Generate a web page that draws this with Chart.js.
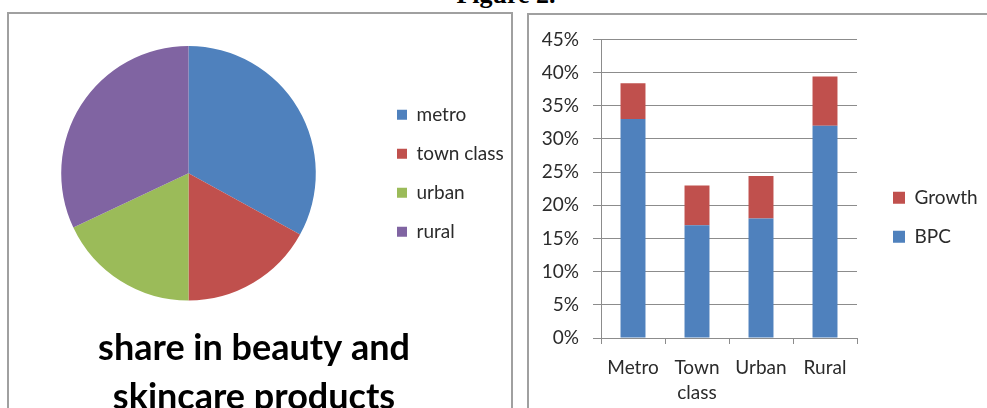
<!DOCTYPE html>
<html>
<head>
<meta charset="utf-8">
<script src="https://cdn.jsdelivr.net/npm/chart.js@4.4.1/dist/chart.umd.min.js"></script>
<style>
  html, body { margin: 0; padding: 0; background: #fff; width: 987px; height: 408px; overflow: hidden; }
  .fig-title { position: absolute; left: 0; width: 1012px; top: -18px; text-align: center;
               font: bold 26px/26px "Liberation Serif", serif; color: #000; }
  .panel { position: absolute; border: 2px solid #a0a0a0; background: #fff; }
  #pie-panel { left: 7px; top: 12px; width: 502px; height: 420px; }
  #bar-panel { left: 527px; top: 13px; width: 480px; height: 420px; }
  canvas { position: absolute; }
  #pie { left: 0; top: 13px; }
  #bar { left: 528px; top: 14px; }
</style>
</head>
<body>
<div class="fig-title">Figure 2.</div>
<div class="panel" id="pie-panel"></div>
<div class="panel" id="bar-panel"></div>
<canvas id="pie" width="511" height="409"></canvas>
<canvas id="bar" width="465" height="400"></canvas>

<script>
// ---- data ----
const PIE_LABELS = ['metro', 'town class', 'urban', 'rural'];
const PIE_SHARE = [33, 17, 18, 32];
const PIE_TITLE = ['share in beauty and', 'skincare products'];

const BAR_CATEGORIES = ['Metro', ['Town', 'class'], 'Urban', 'Rural'];
const BPC = [33, 17, 18, 32];
const GROWTH = [5.4, 6.0, 6.4, 7.4];

// ---- look ----
const BLUE = '#4F81BD';
const RED = '#C0504D';
const GREEN = '#9BBB59';
const PURPLE = '#8064A2';
const GRID = '#8c8c8c';
const TEXT = '#2b2b2b';

Chart.defaults.font.family = 'Lato, "Open Sans", sans-serif';
Chart.defaults.font.size = 19;

// ---- pie (left panel) ----
new Chart(document.getElementById('pie'), {
  type: 'pie',
  data: {
    labels: PIE_LABELS,
    datasets: [{ data: PIE_SHARE, backgroundColor: [BLUE, RED, GREEN, PURPLE], borderWidth: 0 }],
  },
  options: {
    responsive: false,
    animation: false,
    layout: { padding: { top: 33, left: 0, right: 3, bottom: 0 } },
    plugins: {
      legend: {
        position: 'right',
        fullSize: false,
        maxWidth: 131,
        labels: { boxWidth: 10, boxHeight: 10, padding: 20, color: TEXT, font: { size: 19 } },
      },
      title: {
        display: true,
        position: 'bottom',
        text: PIE_TITLE,
        color: '#000',
        font: { size: 36, weight: 'bold', lineHeight: 1.36 },
        padding: { top: 23.5, bottom: 0 },
      },
      tooltip: { enabled: false },
    },
  },
});

// ---- stacked bars (right panel) ----
new Chart(document.getElementById('bar'), {
  type: 'bar',
  data: {
    labels: BAR_CATEGORIES,
    datasets: [
      { label: 'BPC', data: BPC, backgroundColor: BLUE },
      { label: 'Growth', data: GROWTH, backgroundColor: RED },
    ],
  },
  options: {
    responsive: false,
    animation: false,
    datasets: { bar: { barPercentage: 0.39, categoryPercentage: 1 } },
    layout: { padding: { top: 22, left: 0, right: 10, bottom: 0 } },
    scales: {
      x: {
        stacked: true,
        grid: { drawOnChartArea: false, tickLength: 6, color: GRID, offset: true },
        border: { color: GRID },
        ticks: { padding: 11.5, color: TEXT, maxRotation: 0, autoSkip: false, font: { size: 19, lineHeight: 1.32 } },
        afterFit: (s) => { s.height = 76; },
      },
      y: {
        stacked: true,
        min: 0,
        max: 45,
        grid: { color: GRID, tickLength: 8 },
        border: { color: GRID },
        ticks: { stepSize: 5, padding: 14, color: TEXT, callback: (v) => v + '%' },
        afterFit: (s) => { s.width = 73; },
      },
      // empty axis: keeps a gap between the plot and the legend
      spacer: {
        type: 'linear',
        position: 'right',
        grid: { display: false },
        border: { display: false },
        ticks: { display: false },
        afterFit: (s) => { s.width = 16; },
      },
    },
    plugins: {
      legend: {
        position: 'right',
        fullSize: false,
        reverse: true,
        maxWidth: 110,
        // blank title only pushes the two items down a little
        title: { display: true, text: ' ', padding: 0, font: { size: 19, lineHeight: 3 } },
        labels: { boxWidth: 12, boxHeight: 12, padding: 20, color: TEXT, font: { size: 19 } },
      },
      tooltip: { enabled: false },
    },
  },
});
</script>
</body>
</html>
